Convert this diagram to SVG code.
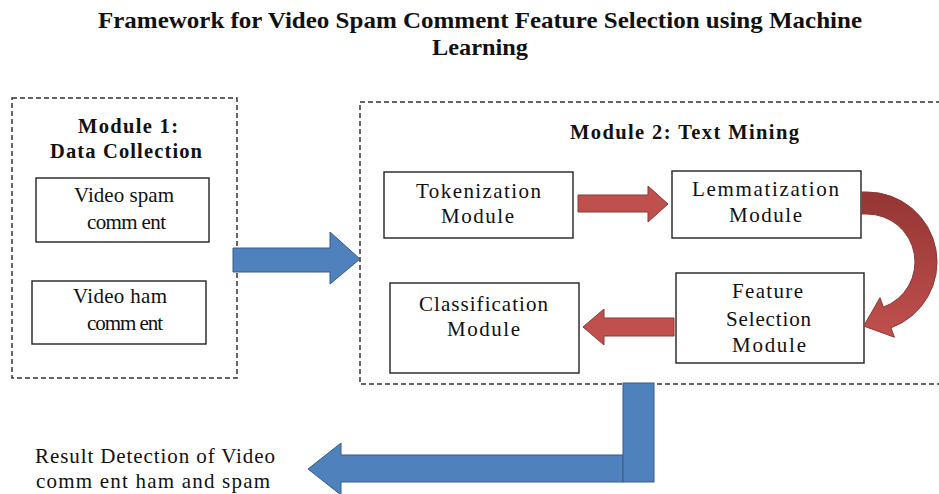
<svg xmlns="http://www.w3.org/2000/svg" width="939" height="494" viewBox="0 0 939 494">
<style>
.title{font-family:"Liberation Serif",serif;font-weight:bold;font-size:24px;fill:#111}
.head{font-family:"Liberation Serif",serif;font-weight:bold;font-size:20.5px;fill:#111}
.lbl{font-family:"Liberation Serif",serif;font-size:21px;fill:#111}
.dash{fill:none;stroke:#333;stroke-width:1.5;stroke-dasharray:5 3}
.box{fill:#fff;stroke:#222;stroke-width:1.4}
.blue{fill:#4F81BD;stroke:#385D8A;stroke-width:1}
.red{fill:#C0504D;stroke:#8C3836;stroke-width:1}
</style>
<defs>
<linearGradient id="curveGrad" x1="0" y1="0" x2="0" y2="1">
<stop offset="0" stop-color="#943634"/>
<stop offset="1" stop-color="#C0504D"/>
</linearGradient>
</defs>
<rect width="939" height="494" fill="#fff"/>
<g id="title">
<text class="title" x="98" y="28" textLength="764" lengthAdjust="spacingAndGlyphs">Framework for Video Spam Comment Feature Selection using Machine</text>
<text class="title" x="432" y="55" textLength="96" lengthAdjust="spacingAndGlyphs">Learning</text>
</g>
<g id="module1">
<rect class="dash" x="12" y="98" width="225" height="280"/>
<text class="head" x="78" y="133" textLength="100" lengthAdjust="spacing">Module 1:</text>
<text class="head" x="50" y="158" textLength="152" lengthAdjust="spacing">Data Collection</text>
</g>
<g id="spam">
<rect class="box" x="36" y="178" width="173" height="64"/>
<text class="lbl" x="74" y="202" textLength="100" lengthAdjust="spacing">Video spam</text>
<text class="lbl" x="87" y="229" textLength="79" lengthAdjust="spacing">comm ent</text>
</g>
<g id="ham">
<rect class="box" x="32" y="281" width="174" height="63"/>
<text class="lbl" x="73" y="303" textLength="94" lengthAdjust="spacing">Video ham</text>
<text class="lbl" x="87" y="330" textLength="76" lengthAdjust="spacing">comm ent</text>
</g>
<g id="module2">
<rect class="dash" x="360" y="102" width="590" height="282"/>
<text class="head" x="570" y="139" textLength="229" lengthAdjust="spacing">Module 2: Text Mining</text>
</g>
<g id="tokenization">
<rect class="box" x="384" y="172" width="189" height="66"/>
<text class="lbl" x="416" y="198" textLength="125" lengthAdjust="spacing">Tokenization</text>
<text class="lbl" x="441" y="223" textLength="73" lengthAdjust="spacing">Module</text>
</g>
<g id="lemmatization">
<rect class="box" x="672" y="171" width="189" height="67"/>
<text class="lbl" x="692" y="196" textLength="147" lengthAdjust="spacing">Lemmatization</text>
<text class="lbl" x="729" y="222" textLength="73" lengthAdjust="spacing">Module</text>
</g>
<g id="featureSelection">
<rect class="box" x="676" y="273" width="188" height="90"/>
<text class="lbl" x="732" y="298" textLength="71" lengthAdjust="spacing">Feature</text>
<text class="lbl" x="726" y="326" textLength="85" lengthAdjust="spacing">Selection</text>
<text class="lbl" x="732" y="352" textLength="74" lengthAdjust="spacing">Module</text>
</g>
<g id="classification">
<rect class="box" x="390" y="283" width="189" height="90"/>
<text class="lbl" x="419" y="311" textLength="129" lengthAdjust="spacing">Classification</text>
<text class="lbl" x="447" y="336" textLength="73" lengthAdjust="spacing">Module</text>
</g>
<g id="result">
<text class="lbl" x="35" y="463" textLength="240" lengthAdjust="spacing">Result Detection of Video</text>
<text class="lbl" x="36" y="488" textLength="234" lengthAdjust="spacing">comm ent ham and spam</text>
</g>
<g id="connectors">
<polygon class="blue" points="233,248 330,248 330,232 360,259 330,284 330,272 233,272"/>
<polygon class="red" points="578,195 648,195 648,186 668,204 648,222 648,212 578,212"/>
<path d="M862 192 L867 192 A70 70 0 0 1 890.9 327.8 L894.4 337.2 L863.7 326 L880 297.7 L883.4 307.1 A48 48 0 0 0 867 214 L862 214 Z" fill="url(#curveGrad)" stroke="#8C3836" stroke-width="1"/>
<polygon class="red" points="674,318 604,318 604,309 583,327 604,345 604,336 674,336"/>
<polygon class="blue" points="623,455 341,455 341,443 308,469 341,495 341,482 623,482"/>
<rect class="blue" x="623" y="383" width="31" height="99"/>
</g>
</svg>
